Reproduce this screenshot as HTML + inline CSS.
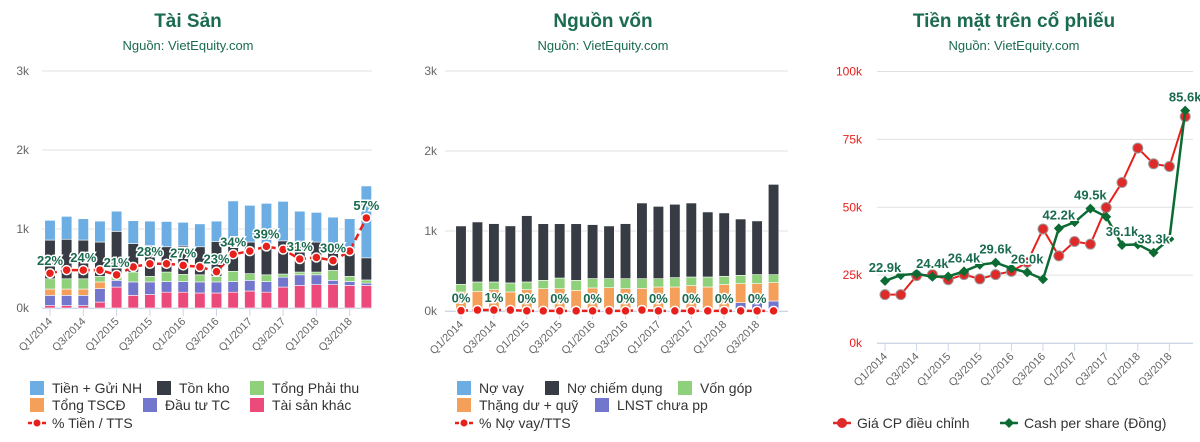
<!DOCTYPE html>
<html><head><meta charset="utf-8">
<style>
body{margin:0;background:#fff;width:1200px;height:437px;overflow:hidden;font-family:"Liberation Sans","Noto Sans CJK SC",sans-serif;}
svg text{font-family:"Liberation Sans","Noto Sans CJK SC",sans-serif;}
</style></head>
<body>
<svg id="c" width="1200" height="437" xmlns="http://www.w3.org/2000/svg">
<g fill="#1b6b4f" text-anchor="middle">
<text x="188" y="27" font-size="19" font-weight="bold">Tài Sản</text>
<text x="188" y="50" font-size="13">Nguồn: VietEquity.com</text>
<text x="603" y="27" font-size="19" font-weight="bold">Nguồn vốn</text>
<text x="603" y="50" font-size="13">Nguồn: VietEquity.com</text>
<text x="1014" y="27" font-size="19" font-weight="bold">Tiền mặt trên cổ phiếu</text>
<text x="1014" y="50" font-size="13">Nguồn: VietEquity.com</text>
</g>
</svg>
<script>
const categories=["Q1/2014","Q2/2014","Q3/2014","Q4/2014","Q1/2015","Q2/2015","Q3/2015","Q4/2015","Q1/2016","Q2/2016","Q3/2016","Q4/2016","Q1/2017","Q2/2017","Q3/2017","Q4/2017","Q1/2018","Q2/2018","Q3/2018","Q4/2018"];
// Panel 1 (Tài sản)
const taiSanKhac=[30,30,30,75,265,160,170,200,200,190,190,200,215,200,265,285,295,295,285,285];
const dauTuTC=[130,130,130,170,85,170,160,135,135,140,140,135,135,135,125,135,125,55,50,30];
const tongTSCD=[80,80,80,85,0,0,0,0,0,0,0,0,0,0,0,0,0,0,0,0];
const tongPhaiThu=[130,130,130,70,105,125,70,120,90,90,70,130,85,85,40,35,35,125,65,40];
const tonKho=[490,500,490,435,515,360,390,320,360,355,440,315,400,390,420,380,380,315,330,280];
const tienGuiNH=[250,290,270,265,255,290,310,320,300,290,260,575,465,515,500,390,375,360,400,910];
const pctTien=[22,24,24,24,21,26,28,28,27,26,23,34,36,39,37,31,32,30,36,57];
const pctTienShown=[1,0,1,0,1,0,1,0,1,0,1,1,0,1,0,1,0,1,0,1];
// Panel 2 (Nguồn vốn)
const lnstChuaPP=[0,0,0,0,0,0,0,0,0,0,0,0,0,0,0,0,42,104,104,125];
const thangDuQuy=[238,246,267,238,267,279,279,258,288,292,279,283,300,300,317,300,288,238,238,229];
const vonGop=[96,117,96,113,96,104,133,125,117,113,125,121,104,117,108,125,104,104,113,100];
const noChiemDung=[729,750,729,713,829,708,679,708,675,658,688,946,904,917,925,813,792,704,671,1129];
const noVay=[0,0,0,0,0,0,0,0,0,0,0,0,0,0,0,0,0,0,0,0];
const pctNoVay=[0.2,0.6,0.6,0.6,0.1,0.1,0.1,0.1,0.1,0.1,0.1,0.6,0.1,0.1,0.1,0.1,0.1,0.1,0.1,0.1];
const pctNoVayShown=[1,0,1,0,1,0,1,0,1,0,1,0,1,0,1,0,1,0,1,0];
// Panel 3 (Tiền mặt trên cổ phiếu), thousands
const giaCP=[17.8,17.8,24.8,25.2,23.3,25.2,23.6,25.2,26.4,29.7,42,32.1,37.4,36.4,49.9,59.1,71.8,66,65,83.4];
const cashPerShare=[22.9,25.0,25.5,24.4,24.5,26.4,28.8,29.6,27.5,26.0,23.5,42.2,44.5,49.5,46.5,36.1,36.3,33.3,38.3,85.6];
const cashShown=[1,0,0,1,0,1,0,1,0,1,0,1,0,1,0,1,0,1,0,1];

const svg=document.getElementById('c');
const NS='http://www.w3.org/2000/svg';
function mk(tag,attrs,parent,text){const e=document.createElementNS(NS,tag);for(const k in attrs)e.setAttribute(k,attrs[k]);if(text!==undefined)e.textContent=text;(parent||svg).appendChild(e);return e;}

function axes(g,x0,x1,y0,scale,ticks,labelX,labelColor,xFn){
  ticks.forEach(t=>{
    const y=y0-t.v*scale;
    const gl=mk('line',{x1:x0,x2:x1,y1:y,y2:y,stroke:'#e0e0e0','stroke-width':1},g);
    
    
    const tl=mk('text',{x:labelX,y:y+4,'font-size':12,fill:labelColor,'text-anchor':'end'},g,t.l);
    
    
  });
  const base=mk('line',{x1:x0,x2:x1,y1:y0+0.5,y2:y0+0.5,stroke:'#ccd6eb','stroke-width':1},g);
  
  
  categories.forEach((c,i)=>{
    if(i%2!==0)return;
    const x=xFn(i);
    const tk=mk('line',{x1:x,x2:x,y1:y0,y2:y0+8,stroke:'#ccd6eb'},g);
    
    
    const t=mk('text',{x:x+3,y:y0+14,'font-size':11,fill:'#666','text-anchor':'end',transform:`rotate(-45 ${x+3} ${y0+14})`},g,c);
    
    
  });
}
function label(g,x,y,txt){
  const h=mk('text',{x:x,y:y,'font-size':13,'font-weight':'bold','text-anchor':'middle',fill:'none',stroke:'#fff','stroke-width':3},g,txt);
  
  
  const t=mk('text',{x:x,y:y,'font-size':13,'font-weight':'bold','text-anchor':'middle',fill:'#1b6b4f'},g,txt);
  
  
}
function stacked(g,series,colors,names,xFn,y0,scale,w){
  categories.forEach((c,i)=>{
    let acc=0;
    series.forEach((s,k)=>{
      const v=s[i];if(v<=0)return;
      const yTop=y0-(acc+v)*scale, yBot=y0-acc*scale;
      const r=mk('rect',{x:xFn(i)-w/2,y:yTop,width:w,height:yBot-yTop,fill:colors[k],stroke:'#fff','stroke-width':0.6},g);
      
      
      acc+=v;
    });
  });
}
function pctLine(g,vals,shown,xFn,yFn,fmt){
  const pts=vals.map((v,i)=>xFn(i)+','+yFn(v)).join(' ');
  const pl=mk('polyline',{points:pts,fill:'none',stroke:'#e8201c','stroke-width':2.5,'stroke-dasharray':'7,4'},g);
  
  
  vals.forEach((v,i)=>{
    const d=mk('circle',{cx:xFn(i),cy:yFn(v),r:4.5,fill:'#e8201c',stroke:'#fff','stroke-width':1.5},g);
    
    
  });
  vals.forEach((v,i)=>{if(shown[i])label(g,xFn(i),yFn(v)-8,fmt(v));});
}
function legendRect(g,x,y,color,txt){
  const r=mk('rect',{x:x,y:y-11,width:14,height:14,fill:color},g);
  
  
  const t=mk('text',{x:x+22,y:y+1,'font-size':14,fill:'#333'},g,txt);
  
  
}
function legendLine(g,x,y,color,txt,marker,dash){
  const l=mk('line',{x1:x,x2:x+18,y1:y-4,y2:y-4,stroke:color,'stroke-width':2.5,'stroke-dasharray':dash||''},g);
  
  
  let m;
  if(marker==='diamond')m=mk('path',{d:`M${x+9} ${y-9} L${x+14} ${y-4} L${x+9} ${y+1} L${x+4} ${y-4}Z`,fill:color},g);
  else m=mk('circle',{cx:x+9,cy:y-4,r:marker==='big'?5:3.5,fill:color},g);
  
  
  const t=mk('text',{x:x+24,y:y+1,'font-size':14,fill:'#333'},g,txt);
  
  
}
const kTicks=[{v:0,l:'0k'},{v:1000,l:'1k'},{v:2000,l:'2k'},{v:3000,l:'3k'}];

// Panel 1
const g1=mk('g',{});


const x1=i=>50+i*16.65, Y1=308, S1=0.079;
axes(g1,42,372,Y1,S1,kTicks,29,'#666',x1);
stacked(g1,[taiSanKhac,dauTuTC,tongTSCD,tongPhaiThu,tonKho,tienGuiNH],['#ec4a7a','#7276cc','#f5a05a','#8fd07a','#363b44','#6caee4'],['tai-san-khac','dau-tu-tc','tong-tscd','tong-phai-thu','ton-kho','tien-gui-nh'],x1,Y1,S1,10.5);
pctLine(g1,pctTien,pctTienShown,x1,v=>Y1-v*20*S1,v=>Math.round(v)+'%');
legendRect(g1,30,392,'#6caee4','Tiền + Gửi NH');legendRect(g1,157,392,'#363b44','Tồn kho');legendRect(g1,250,392,'#8fd07a','Tổng Phải thu');
legendRect(g1,30,409,'#f5a05a','Tổng TSCĐ');legendRect(g1,143,409,'#7276cc','Đầu tư TC');legendRect(g1,250,409,'#ec4a7a','Tài sản khác');
legendLine(g1,28,427,'#e8201c','% Tiền / TTS','small','4,3');

// Panel 2
const g2=mk('g',{});


const x2=i=>461+i*16.45, Y2=311, S2=0.08;
axes(g2,445,788,Y2,S2,kTicks,437,'#666',x2);
stacked(g2,[lnstChuaPP,thangDuQuy,vonGop,noChiemDung,noVay],['#7276cc','#f5a05a','#8fd07a','#363b44','#6caee4'],['lnst-chua-pp','thang-du-quy','von-gop','no-chiem-dung','no-vay'],x2,Y2,S2,10.5);
pctLine(g2,pctNoVay,pctNoVayShown,x2,v=>Y2-v*20*S2,v=>Math.round(v)+'%');
legendRect(g2,457,392,'#6caee4','Nợ vay');legendRect(g2,545,392,'#363b44','Nợ chiếm dụng');legendRect(g2,678,392,'#8fd07a','Vốn góp');
legendRect(g2,457,409,'#f5a05a','Thặng dư + quỹ');legendRect(g2,595,409,'#7276cc','LNST chưa pp');
legendLine(g2,455,427,'#e8201c','% Nợ vay/TTS','small','4,3');

// Panel 3
const g3=mk('g',{});


const x3=i=>885+i*15.8, Y3=343, S3=2.715;
axes(g3,877,1193,Y3,S3,[{v:0,l:'0k'},{v:25,l:'25k'},{v:50,l:'50k'},{v:75,l:'75k'},{v:100,l:'100k'}],862,'#e8201c',x3);
const y3=v=>Y3-v*S3;
const rl=mk('polyline',{points:giaCP.map((v,i)=>x3(i)+','+y3(v)).join(' '),fill:'none',stroke:'#e8201c','stroke-width':2},g3);


giaCP.forEach((v,i)=>{const c=mk('circle',{cx:x3(i),cy:y3(v),r:5,fill:'#df2a2a',stroke:'#999','stroke-width':1},g3);

});
const gl=mk('polyline',{points:cashPerShare.map((v,i)=>x3(i)+','+y3(v)).join(' '),fill:'none',stroke:'#0b6b33','stroke-width':2.5},g3);


cashPerShare.forEach((v,i)=>{const x=x3(i),y=y3(v);
const d=mk('path',{d:`M${x} ${y-5} L${x+5} ${y} L${x} ${y+5} L${x-5} ${y}Z`,fill:'#0b6b33'},g3);

});
cashPerShare.forEach((v,i)=>{if(cashShown[i])label(g3,x3(i),y3(v)-9,v.toFixed(1)+'k');});
legendLine(g3,833,427,'#df2a2a','Giá CP điều chỉnh','big');
legendLine(g3,1000,427,'#0b6b33','Cash per share (Đồng)','diamond');
</script>
</body></html>
